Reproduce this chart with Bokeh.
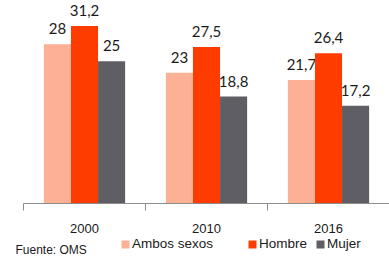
from bokeh.plotting import figure
from bokeh.models import Range1d, FixedTicker, Legend, LegendItem, Label, ColumnDataSource
from bokeh.core.properties import value
from bokeh.embed import file_html
from bokeh.resources import INLINE

years = ["2000", "2010", "2016"]
series = ["Ambos sexos", "Hombre", "Mujer"]
ambos = [28, 23, 21.7]
hombre = [31.2, 27.5, 26.4]
mujer = [25, 18.8, 17.2]
colors = ["#FCB196", "#FF3C00", "#5F5E64"]
source_note = "Fuente: OMS"

values = [ambos, hombre, mujer]
offsets = [-0.222, 0.0, 0.222]
bar_w = 0.222

W, H = 389, 259
px_x = 122.0   # pixels per category
px_y = 5.69    # pixels per unit
left_px, base_px = 23, 203

p = figure(width=W, height=H, output_backend="svg", toolbar_location=None,
           x_range=Range1d(-left_px / px_x, (W - left_px) / px_x),
           y_range=Range1d(-(H - base_px) / px_y, base_px / px_y),
           min_border=0, min_border_left=0, min_border_right=0,
           min_border_top=0, min_border_bottom=0)
p.outline_line_color = None
p.xgrid.visible = False
p.ygrid.visible = False
p.yaxis.visible = False
p.background_fill_color = "white"
p.border_fill_color = "white"

centers = [i + 0.5 for i in range(len(years))]
renderers = []
for vals, off, col in zip(values, offsets, colors):
    src = ColumnDataSource(dict(
        x=[c + off for c in centers],
        top=vals,
        lab=[f"{v:g}".replace(".", ",") for v in vals],
    ))
    r = p.vbar(x="x", top="top", width=bar_w, source=src, fill_color=col, line_color=None)
    renderers.append(r)
    p.text(x="x", y="top", text="lab", source=src, text_align="center", text_baseline="bottom",
           y_offset=-10, text_font=value("Lato"), text_font_size="15px", text_color="#1a1a1a")

ax = p.xaxis[0]
ax.fixed_location = 0
ax.bounds = (0, len(years))
ax.ticker = FixedTicker(ticks=centers, minor_ticks=list(range(len(years) + 1)))
ax.major_label_overrides = {c: y for c, y in zip(centers, years)}
ax.major_tick_line_color = None
ax.major_tick_out = 0
ax.major_tick_in = 0
ax.minor_tick_out = 7
ax.minor_tick_in = 0
ax.minor_tick_line_color = "#8c8c8c"
ax.axis_line_color = "#8c8c8c"
ax.axis_line_width = 1.2
ax.major_label_standoff = 13
ax.major_label_text_font = "Liberation Sans"
ax.major_label_text_font_size = "13px"
ax.major_label_text_color = "#1a1a1a"

leg_x = [120, 247, 315]
for name, r, lx in zip(series, renderers, leg_x):
    leg = Legend(items=[LegendItem(label=name, renderers=[r])], location=(lx, 8),
                 orientation="horizontal", background_fill_alpha=0, border_line_color=None,
                 padding=0, margin=0, glyph_width=10, glyph_height=10, label_height=12,
                 label_standoff=2, label_text_font="Liberation Sans",
                 label_text_font_size="13.5px", label_text_color="#1a1a1a")
    p.add_layout(leg, "center")

p.add_layout(Label(x=15, y=10, x_units="screen", y_units="screen", text=source_note,
                   text_baseline="alphabetic",
                   text_font="Liberation Sans", text_font_size="12px", text_color="#1a1a1a"))

open("out.html", "w").write(file_html(p, INLINE))
